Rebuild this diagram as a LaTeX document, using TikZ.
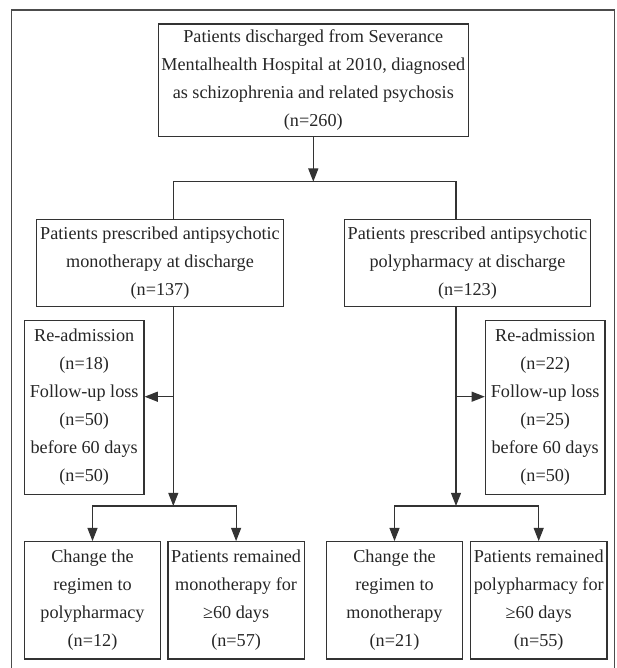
\documentclass[tikz,border=0pt]{standalone}
\usepackage{fontspec}
\setmainfont{Liberation Serif}
\usetikzlibrary{arrows.meta,positioning}

\begin{document}
\begin{tikzpicture}[x=0.5pt, y=-0.5pt, >={Triangle[length=6.6pt,width=5pt]},
  box/.style={draw=black!80, line width=0.6pt, align=center, inner sep=0pt,
              text=black!85, font=\fontsize{9.1}{14}\selectfont},
  bigbox/.style={box, minimum width=155pt, minimum height=56.3pt},
  midbox/.style={box, minimum width=123.3pt, minimum height=43.7pt},
  sidebox/.style={box, minimum width=59.8pt, minimum height=86.8pt},
  endbox/.style={box, minimum width=68.2pt, minimum height=58.6pt},
  line/.style={draw=black!80, line width=0.6pt},
  arr/.style={line, ->}]
\useasboundingbox (0,0) rectangle (616,668);
% outer frame
\draw[black!70, line width=0.6pt] (11.7,668) -- (11.7,10) -- (614.3,10) -- (614.3,668);

\node[bigbox] (top) at (313.3,80.3) {Patients discharged from Severance\\
  Mentalhealth Hospital at 2010, diagnosed\\ as schizophrenia and related psychosis\\ (n=260)};
\node[midbox] (mono) at (160,263) {Patients prescribed antipsychotic\\ monotherapy at discharge\\ (n=137)};
\node[midbox, right=29.85pt of mono] (poly) {Patients prescribed antipsychotic\\ polypharmacy at discharge\\ (n=123)};
\node[sidebox] (lossM) at (84.2,407.5) {Re-admission\\ (n=18)\\ Follow-up loss\\ (n=50)\\ before 60 days\\ (n=50)};
\node[sidebox] (lossP) at (545.2,407.5) {Re-admission\\ (n=22)\\ Follow-up loss\\ (n=25)\\ before 60 days\\ (n=50)};
\node[endbox] (chgM) at (92.5,600.3) {Change the\\ regimen to\\ polypharmacy\\ (n=12)};
\node[endbox, right=3pt of chgM] (remM) {Patients remained\\ monotherapy for\\ ≥60 days\\ (n=57)};
\node[endbox] (chgP) at (394.5,600.3) {Change the\\ regimen to\\ monotherapy\\ (n=21)};
\node[endbox, right=3.3pt of chgP] (remP) {Patients remained\\ polypharmacy for\\ ≥60 days\\ (n=55)};

% split after discharge
\coordinate (split) at (313.3,181.7);
\coordinate (jL) at (173.3,181.7);
\coordinate (jR) at (456,181.7);
\draw[arr] (top) -- (split);
\draw[line] (jL |- mono.north) -- (jL) -- (jR) -- (jR |- poly.north);

% monotherapy branch
\coordinate (sL) at (173.3,396.7);
\coordinate (bL) at (173.3,506);
\draw[arr] (jL |- mono.south) -- (bL);
\draw[arr] (sL) -- (sL -| lossM.east);
\draw[arr] (bL) -| (chgM.north);
\draw[arr] (bL) -| (remM.north);

% polypharmacy branch
\coordinate (sR) at (456,396.7);
\coordinate (bR) at (456,506);
\draw[arr] (jR |- poly.south) -- (bR);
\draw[arr] (sR) -- (sR -| lossP.west);
\draw[arr] (bR) -| (chgP.north);
\draw[arr] (bR) -| (remP.north);
\end{tikzpicture}
\end{document}
